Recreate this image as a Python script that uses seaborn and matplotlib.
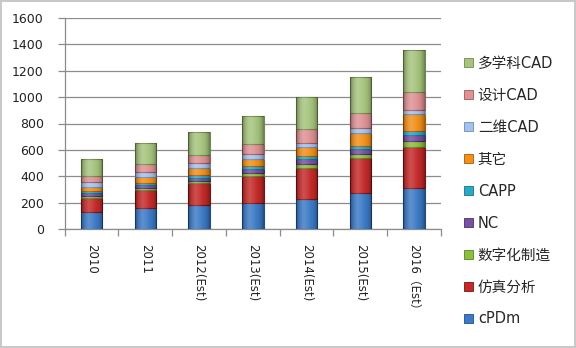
import matplotlib
matplotlib.use("Agg")
import matplotlib.pyplot as plt
from matplotlib.patches import Patch
import seaborn as sns
import pandas as pd
import numpy as np

# Categories on the x axis
years = ["2010", "2011", "2012(Est)", "2013(Est)", "2014(Est)", "2015(Est)", "2016（Est）"]

# Segment values per year, bottom to top
cpdm = [130, 160, 180, 200, 230, 270, 310]
simulation = [105, 135, 170, 200, 235, 265, 315]
digital_mfg = [15, 15, 15, 25, 30, 35, 45]
nc = [25, 25, 25, 30, 35, 40, 45]
capp = [15, 15, 20, 20, 20, 20, 30]
other = [30, 45, 50, 55, 70, 100, 125]
cad_2d = [35, 40, 40, 35, 35, 35, 35]
design_cad = [45, 60, 60, 80, 100, 115, 135]
multi_cad = [130, 155, 175, 215, 245, 275, 315]

series_names = ["cPDm", "仿真分析", "数字化制造", "NC", "CAPP", "其它", "二维CAD", "设计CAD", "多学科CAD"]
series_values = [cpdm, simulation, digital_mfg, nc, capp, other, cad_2d, design_cad, multi_cad]
series_colors = ["#3c7ac6", "#c42a2a", "#8cbf3f", "#7a50a3", "#2aa9c6",
                 "#f2901a", "#a6c2ea", "#de9294", "#a6c47e"]
edge_colors = ["#1f4f8a", "#7a1414", "#5a7f22", "#4a2d6e", "#17718a",
               "#a85a08", "#6c8cb8", "#a05a5c", "#6f8a4c"]

y_ticks = [0, 200, 400, 600, 800, 1000, 1200, 1400, 1600]

sns.set_theme(style="white")
plt.rcParams["font.family"] = ["DejaVu Sans", "Noto Sans CJK SC"]
plt.rcParams["axes.unicode_minus"] = False

fig = plt.figure(figsize=(5.76, 3.48), dpi=100)
fig.patch.set_facecolor("white")
fig.patch.set_edgecolor("#c8c8c8")
fig.patch.set_linewidth(1.5)

ax = fig.add_axes([64.7 / 576, 1 - 229 / 348, (441 - 64.7) / 576, (229 - 18) / 348])

bottom = np.zeros(len(years))
for name, vals, col, ec in zip(series_names, series_values, series_colors, edge_colors):
    df = pd.DataFrame({"year": years, "value": vals})
    sns.barplot(data=df, x="year", y="value", order=years, color=col,
                width=0.4, bottom=bottom.copy(), edgecolor=ec, linewidth=0.8,
                saturation=1, ax=ax, zorder=3)
    bottom += np.array(vals)

ax.set_ylim(0, 1600)
ax.set_xlim(-0.5, len(years) - 0.5)

# Bevel shading on each bar segment: darker sides, lighter centre
prof = np.linspace(-1, 1, 64)
shade = np.zeros((1, 64, 4))
shade[..., 3] = np.clip(np.abs(prof) ** 3 * 0.35, 0, 0.35)
hl = np.ones((1, 64, 4))
hl[..., 3] = np.clip(0.18 * (1 - np.abs(prof + 0.3) / 0.7), 0, 0.18)
for p in list(ax.patches):
    x0, y0 = p.get_x(), p.get_y()
    w, h = p.get_width(), p.get_height()
    if h <= 0:
        continue
    for img in (shade, hl):
        im = ax.imshow(img, extent=(x0, x0 + w, y0, y0 + h), aspect="auto",
                       zorder=3.5, interpolation="bilinear")
        im.set_clip_path(p)
ax.set_xlim(-0.5, len(years) - 0.5)
ax.set_ylim(0, 1600)
ax.set_aspect("auto")

ax.set_yticks(y_ticks)
ax.set_yticklabels([str(t) for t in y_ticks], fontsize=9, color="#222222")
ax.set_xlabel("")
ax.set_ylabel("")

# Gridlines and axes
ax.yaxis.grid(True, color="#8c8c8c", linewidth=0.9, zorder=0)
ax.xaxis.grid(False)
for side in ["top", "right"]:
    ax.spines[side].set_visible(False)
for side in ["left", "bottom"]:
    ax.spines[side].set_color("#8c8c8c")
    ax.spines[side].set_linewidth(0.9)
ax.tick_params(axis="y", which="major", left=True, length=5, width=0.9,
               color="#8c8c8c", pad=10)

# Category ticks sit between the bars
ax.set_xticks(range(len(years)))
ax.set_xticklabels(years, rotation=-90, fontsize=8.5, color="#222222", va="top", ha="center")
ax.set_xticks(np.arange(-0.5, len(years), 1.0), minor=True)
ax.tick_params(axis="x", which="major", length=0, pad=11)
ax.tick_params(axis="x", which="minor", bottom=True, length=5, width=0.9, color="#8c8c8c")

# Legend lists the top segment first
handles = [Patch(facecolor=c, edgecolor=e, linewidth=0.6)
           for c, e in zip(series_colors[::-1], edge_colors[::-1])]
fig.legend(handles, series_names[::-1], loc="upper left",
           bbox_to_anchor=(464 / 576, 1 - 56 / 348), frameon=False,
           fontsize=10.5, handlelength=0.6, handleheight=0.6, handletextpad=0.35,
           labelspacing=1.16, borderaxespad=0, borderpad=0)

fig.savefig("out.png", dpi=100, facecolor=fig.get_facecolor(), edgecolor=fig.get_edgecolor())
